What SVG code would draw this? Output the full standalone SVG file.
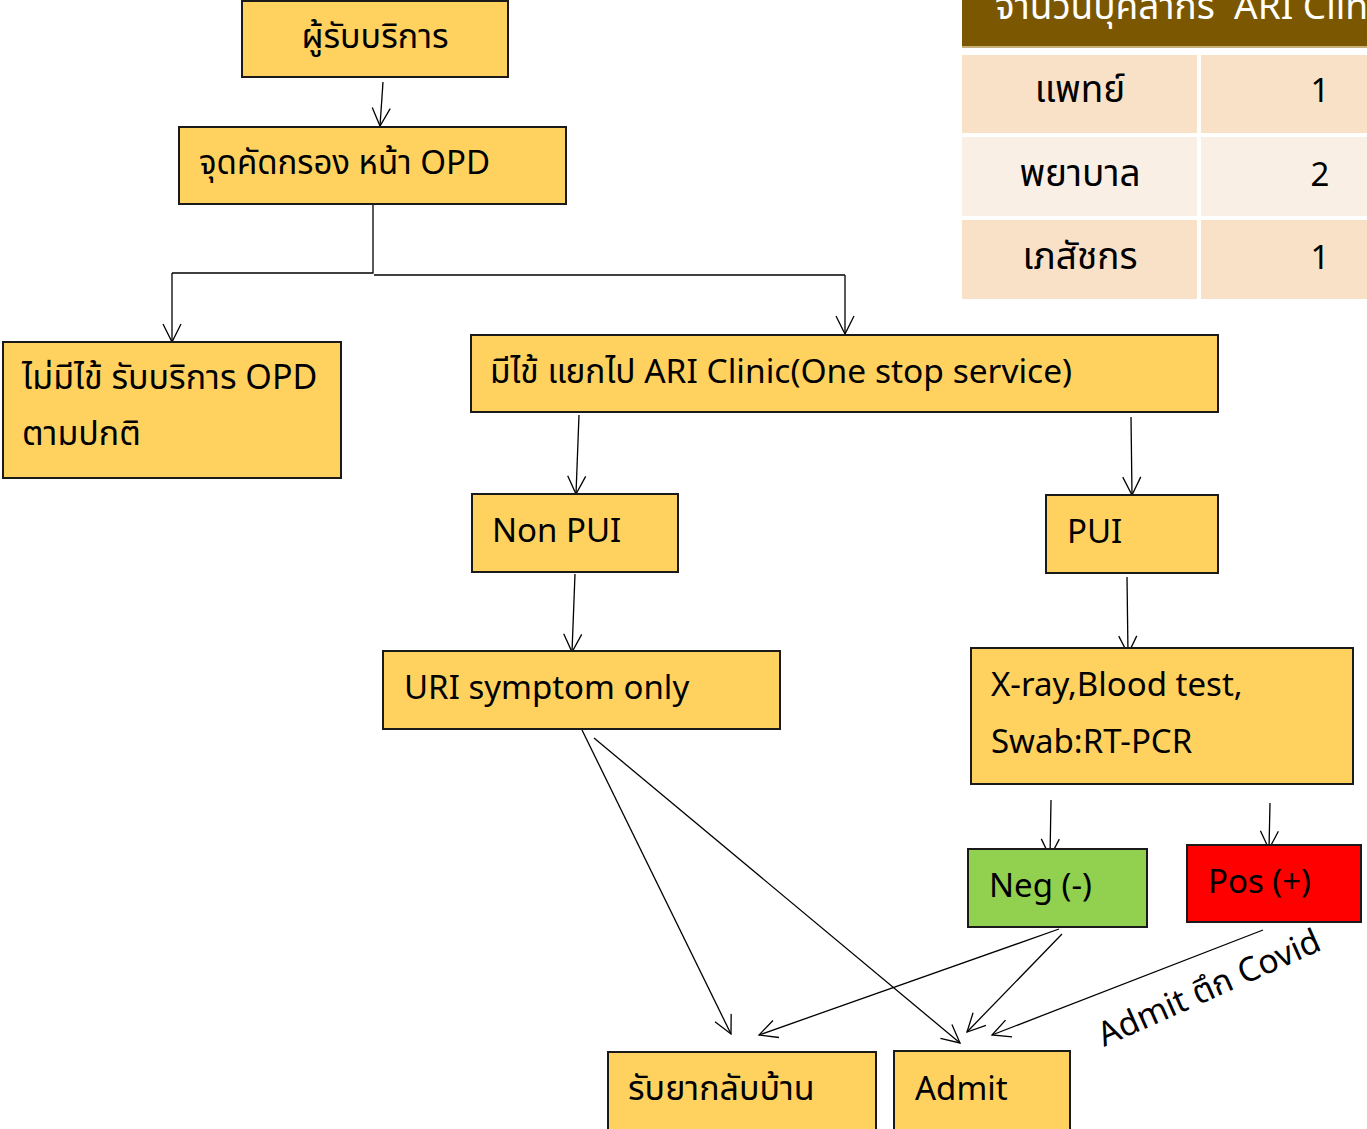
<svg xmlns="http://www.w3.org/2000/svg" width="1367" height="1129" viewBox="0 0 1367 1129">
<defs>
<marker id="arr" markerUnits="userSpaceOnUse" markerWidth="24" markerHeight="24" viewBox="0 0 24 24" refX="20" refY="12" orient="auto">
<path d="M2,3 L20,12 L2,21" fill="none" stroke="#000" stroke-width="1.3"/>
</marker>
<style>
.box{fill:#FFD25F;stroke:#1a1a1a;stroke-width:2}
.t{font-family:"Noto Sans Thai","Noto Sans","Open Sans","DejaVu Sans",sans-serif;font-size:33px;fill:#000}
.k{font-size:34px}
.c{stroke:#000;stroke-width:1.3;fill:none}
.ca{stroke:#000;stroke-width:1.3;fill:none;marker-end:url(#arr)}
.th{font-family:"Noto Sans Thai","Noto Sans","Open Sans","DejaVu Sans",sans-serif;font-size:37px;fill:#000;text-anchor:middle}
.num{font-size:33px}
</style>
</defs>
<rect width="1367" height="1129" fill="#fff"/>

<g id="table">
<rect x="962" y="0" width="405" height="46" fill="#7A5700"/>
<rect x="962" y="46" width="405" height="2" fill="#C8B07A"/>
<text x="995" y="19" class="t" style="font-size:37px;fill:#FFFFFF" xml:space="preserve">จำนวนบุคลากร  ARI Clinic</text>
<rect x="962" y="55" width="235" height="78" fill="#F9E1C8"/>
<rect x="1201" y="55" width="166" height="78" fill="#F9E1C8"/>
<rect x="962" y="137" width="235" height="79" fill="#FAEFE5"/>
<rect x="1201" y="137" width="166" height="79" fill="#FAEFE5"/>
<rect x="962" y="220" width="235" height="79" fill="#F9E1C8"/>
<rect x="1201" y="220" width="166" height="79" fill="#F9E1C8"/>
<text x="1080" y="102" class="th">แพทย์</text>
<text x="1320" y="102" class="th num">1</text>
<text x="1080" y="186" class="th">พยาบาล</text>
<text x="1320" y="186" class="th num">2</text>
<text x="1080" y="269" class="th">เภสัชกร</text>
<text x="1320" y="269" class="th num">1</text>
</g>

<g id="connectors">
<line class="ca" x1="383" y1="82" x2="380" y2="126"/>
<polyline class="c" points="373,205 373,273 172,273"/>
<line class="ca" x1="172" y1="273" x2="172" y2="342"/>
<polyline class="c" points="374,275 845,275"/>
<line class="ca" x1="845" y1="275" x2="845" y2="334"/>
<line class="ca" x1="579" y1="415" x2="576" y2="494"/>
<line class="ca" x1="1131" y1="417" x2="1132" y2="495"/>
<line class="ca" x1="575" y1="574" x2="572" y2="652"/>
<line class="ca" x1="1127" y1="577" x2="1128" y2="654"/>
<line class="ca" x1="1051" y1="800" x2="1050" y2="857"/>
<line class="ca" x1="1270" y1="803" x2="1269" y2="849"/>
<line class="ca" x1="582" y1="730" x2="731" y2="1034"/>
<line class="ca" x1="594" y1="738" x2="960" y2="1043"/>
<line class="ca" x1="1059" y1="929" x2="759" y2="1035"/>
<line class="ca" x1="1062" y1="934" x2="967" y2="1032"/>
<line class="ca" x1="1263" y1="930" x2="992" y2="1035"/>
</g>

<g id="n1"><rect class="box" x="242" y="1" width="266" height="76"/><text x="375" y="48" class="t k" text-anchor="middle">ผู้รับบริการ</text></g>
<g id="n2"><rect class="box" x="179" y="127" width="387" height="77"/><text x="199" y="174" class="t">จุดคัดกรอง หน้า OPD</text></g>
<g id="n3"><rect class="box" x="3" y="342" width="338" height="136"/><text x="22" y="389" class="t k">ไม่มีไข้ รับบริการ OPD</text><text x="22" y="445" class="t k">ตามปกติ</text></g>
<g id="n4"><rect class="box" x="471" y="335" width="747" height="77"/><text x="490" y="383" class="t" style="font-size:33.5px">มีไข้ แยกไป ARI Clinic(One stop service)</text></g>
<g id="n5"><rect class="box" x="472" y="494" width="206" height="78"/><text x="492" y="542" class="t">Non PUI</text></g>
<g id="n6"><rect class="box" x="1046" y="495" width="172" height="78"/><text x="1067" y="543" class="t">PUI</text></g>
<g id="n7"><rect class="box" x="383" y="651" width="397" height="78"/><text x="404" y="699" class="t">URI symptom only</text></g>
<g id="n8"><rect class="box" x="971" y="648" width="382" height="136"/><text x="991" y="696" class="t">X-ray,Blood test,</text><text x="991" y="753" class="t">Swab:RT-PCR</text></g>
<g id="n9"><rect class="box" x="968" y="849" width="179" height="78" style="fill:#92D050"/><text x="989" y="897" class="t">Neg (-)</text></g>
<g id="n10"><rect class="box" x="1187" y="845" width="174" height="77" style="fill:#FF0000"/><text x="1208" y="893" class="t">Pos (+)</text></g>
<g id="n11"><rect class="box" x="608" y="1052" width="268" height="80"/><text x="628" y="1100" class="t k">รับยากลับบ้าน</text></g>
<g id="n12"><rect class="box" x="894" y="1051" width="176" height="80"/><text x="915" y="1100" class="t">Admit</text></g>
<text x="1104" y="1047" class="t" style="font-size:33.5px" transform="rotate(-24 1104 1047)">Admit ตึก Covid</text>
</svg>
